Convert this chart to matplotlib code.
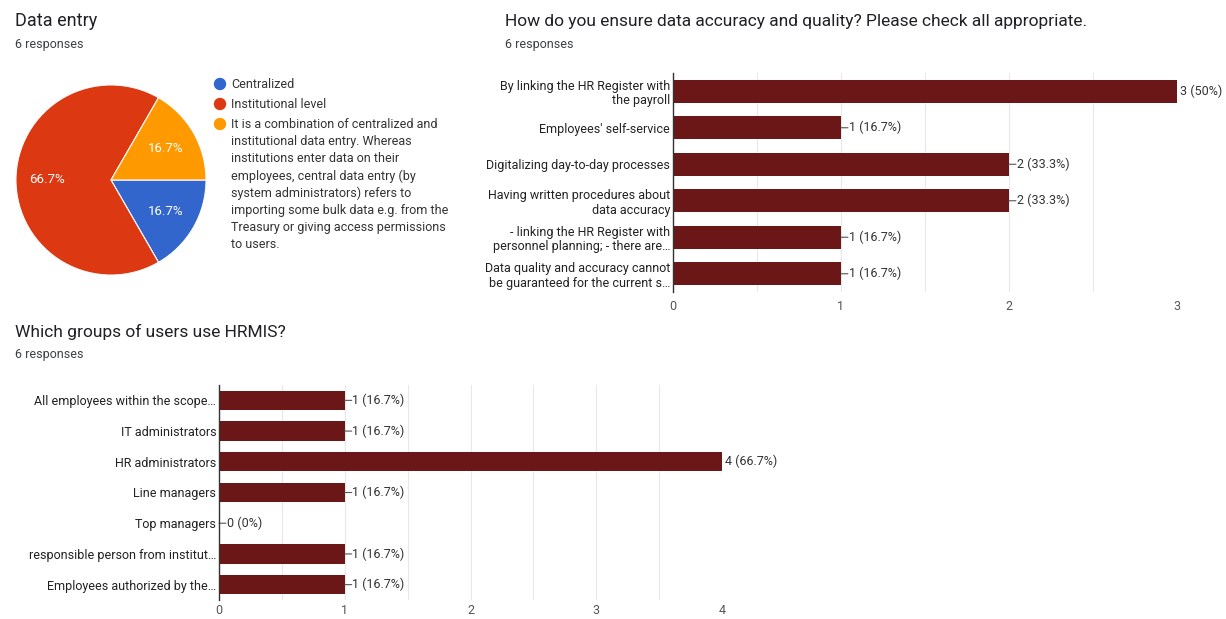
import matplotlib
matplotlib.use("Agg")
import matplotlib.pyplot as plt
from matplotlib.patches import Circle

plt.rcParams['font.family'] = ['Roboto', 'DejaVu Sans']

# --- data -------------------------------------------------------------
pie_title = "Data entry"
pie_labels = [
    "Centralized",
    "Institutional level",
    "It is a combination of centralized and\ninstitutional data entry. Whereas\n"
    "institutions enter data on their\nemployees, central data entry (by\n"
    "system administrators) refers to\nimporting some bulk data e.g. from the\n"
    "Treasury or giving access permissions\nto users.",
]
pie_counts = [1, 4, 1]
pie_colors = ["#3366cc", "#dc3912", "#ff9900"]

acc_title = "How do you ensure data accuracy and quality? Please check all appropriate."
acc_labels = [
    "By linking the HR Register with\nthe payroll",
    "Employees' self-service",
    "Digitalizing day-to-day processes",
    "Having written procedures about\ndata accuracy",
    "- linking the HR Register with\npersonnel planning; - there are\u2026",
    "Data quality and accuracy cannot\nbe guaranteed for the current s\u2026",
]
acc_counts = [3, 1, 2, 2, 1, 1]
acc_xmax = 3

grp_title = "Which groups of users use HRMIS?"
grp_labels = [
    "All employees within the scope\u2026",
    "IT administrators",
    "HR administrators",
    "Line managers",
    "Top managers",
    "responsible person from institut\u2026",
    "Employees authorized by the\u2026",
]
grp_counts = [1, 1, 4, 1, 0, 1, 1]
grp_xmax = 4

n_responses = 6
bar_color = "#6b1717"

# --- layout helpers ---------------------------------------------------
W, H = 1226, 619
fig = plt.figure(figsize=(W / 100, H / 100), dpi=100)
fig.patch.set_facecolor("white")


def px_axes(x0, y0, x1, y1):
    return fig.add_axes([x0 / W, 1 - y1 / H, (x1 - x0) / W, (y1 - y0) / H])


def fx(x):
    return x / W


def fy(y):
    return 1 - y / H


def heading(x, y_title, y_sub, title, size=12.5):
    fig.text(fx(x), fy(y_title), title, fontsize=size, color="#202124",
             va="baseline", ha="left")
    fig.text(fx(x), fy(y_sub), f"{n_responses} responses", fontsize=9,
             color="#3c4043", va="baseline", ha="left")


def bar_panel(ax, labels, counts, xmax, xpad):
    n = len(counts)
    ax.barh(range(n), counts, height=0.63, color=bar_color, zorder=3)
    ax.set_ylim(n - 0.5, -0.5)
    ax.set_xlim(0, xmax)
    ax.set_xticks(range(xmax + 1))
    ax.set_xticks([k + 0.5 for k in range(xmax)], minor=True)
    ax.grid(axis="x", which="both", color="#e8e8e8", lw=0.8, zorder=0)
    ax.set_yticks(range(n), labels)
    for lbl in ax.get_yticklabels():
        lbl.set_multialignment("right")
        lbl.set_linespacing(1.15)
    for s in ("top", "right", "bottom"):
        ax.spines[s].set_visible(False)
    ax.spines["left"].set_color("#333333")
    ax.spines["left"].set_linewidth(1.0)
    ax.spines["left"].set_zorder(4)
    ax.tick_params(axis="both", which="both", length=0)
    ax.tick_params(axis="y", labelsize=9, labelcolor="#222222", pad=2)
    ax.tick_params(axis="x", labelsize=9, labelcolor="#555555", pad=xpad)
    top = max(counts)
    for i, v in enumerate(counts):
        pct = v / n_responses * 100
        pct_txt = f"{pct:.1f}".rstrip("0").rstrip(".")
        txt = f"{v} ({pct_txt}%)"
        if v == top:
            ax.annotate(txt, xy=(v, i), xytext=(2.5, 0), textcoords="offset points",
                        fontsize=9, color="#333333", va="center", ha="left",
                        annotation_clip=False)
        else:
            ax.annotate("", xy=(v, i), xytext=(5, 0), textcoords="offset points",
                        arrowprops=dict(arrowstyle="-", color="#555555", lw=0.8,
                                        shrinkA=0, shrinkB=0))
            ax.annotate(txt, xy=(v, i), xytext=(5.5, 0), textcoords="offset points",
                        fontsize=9, color="#333333", va="center", ha="left")


# --- pie: data entry --------------------------------------------------
heading(15, 26, 48, pie_title, size=13)
axp = px_axes(15, 84, 207, 276)
wedges, _, autotexts = axp.pie(
    pie_counts, colors=pie_colors, startangle=0, counterclock=False,
    autopct="%.1f%%", pctdistance=0.67,
    wedgeprops=dict(edgecolor="white", linewidth=0.8),
    textprops=dict(color="white", fontsize=9.5),
)
axp.set_xlim(-1.01, 1.01)
axp.set_ylim(-1.01, 1.01)
axp.set_aspect("equal")

# legend drawn beside the pie (circle positions in inches)
leg_y = [84, 104, 124]
for (lab, col, y) in zip(pie_labels, pie_colors, leg_y):
    dot = Circle((220 / 100, (H - y) / 100), radius=5.5 / 100, color=col,
                 transform=fig.dpi_scale_trans)
    fig.patches.append(dot)
    fig.text(fx(231), fy(y - 6), lab, fontsize=9, color="#333333",
             va="top", ha="left", linespacing=1.4)

# --- bars: data accuracy ---------------------------------------------
heading(505, 26, 48, acc_title)
axa = px_axes(673, 73, 1177, 292)
bar_panel(axa, acc_labels, acc_counts, acc_xmax, xpad=6)

# --- bars: user groups -----------------------------------------------
heading(15, 337, 358, grp_title)
axg = px_axes(219, 385, 722, 600)
bar_panel(axg, grp_labels, grp_counts, grp_xmax, xpad=3)

fig.savefig("out.png", dpi=100, facecolor="white")
